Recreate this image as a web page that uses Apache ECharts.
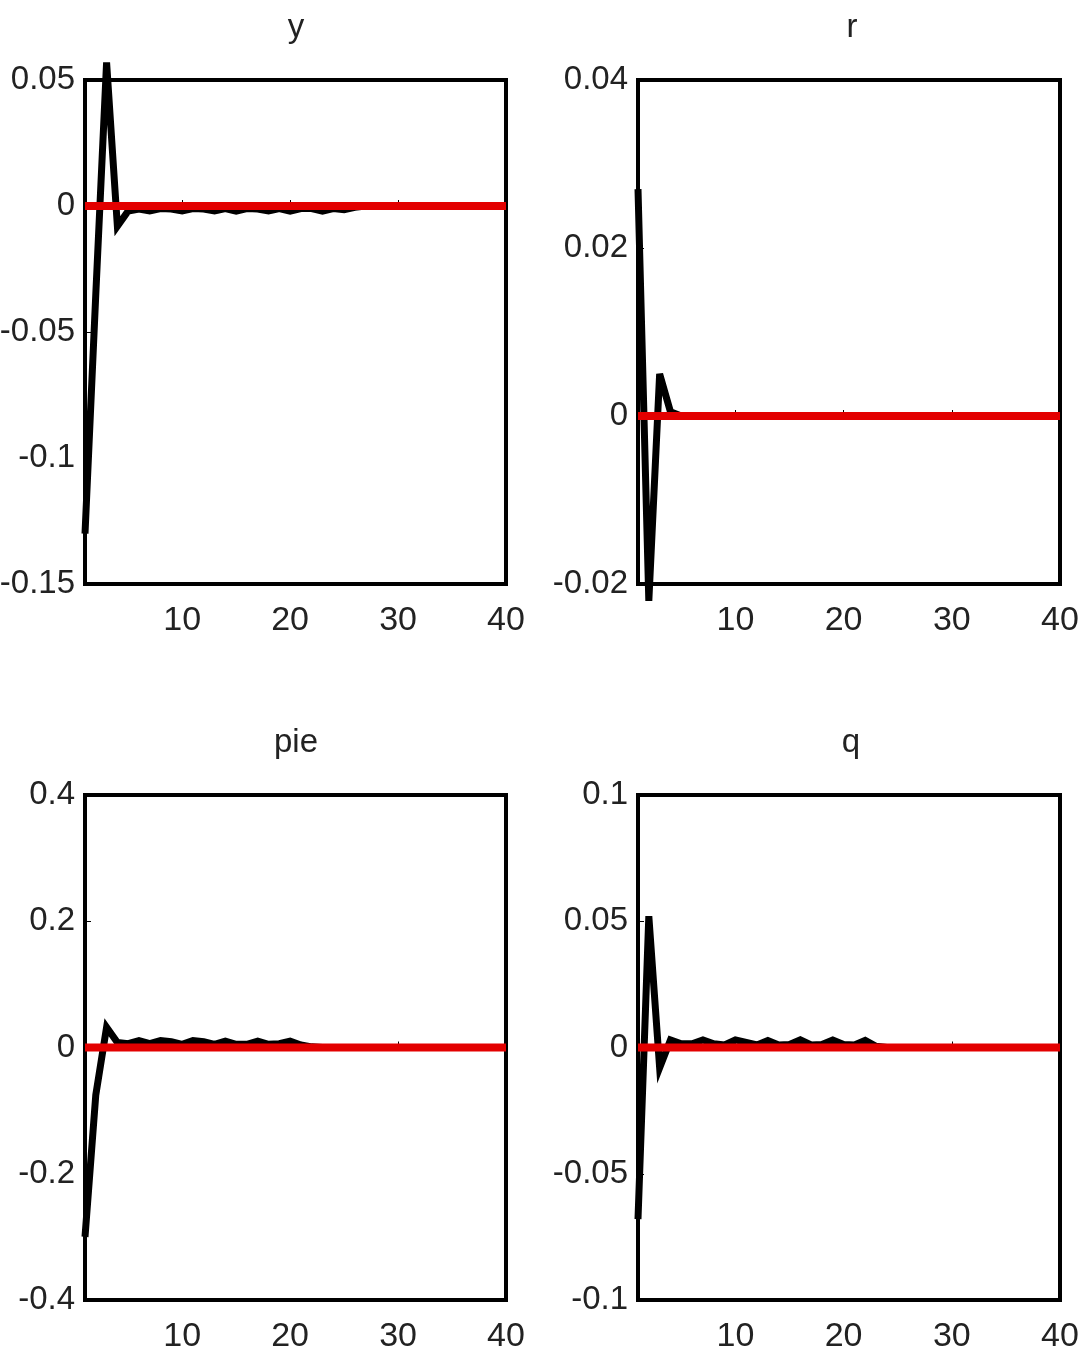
<!DOCTYPE html>
<html><head><meta charset="utf-8">
<script src="https://cdn.jsdelivr.net/npm/echarts@6/dist/echarts.min.js"></script>
<style>html,body{margin:0;padding:0;background:#fff}#c{width:1087px;height:1357px}</style>
</head><body><div id="c"></div>
<script>
const periods = [1,2,3,4,5,6,7,8,9,10,11,12,13,14,15,16,17,18,19,20,21,22,23,24,25,26,27,28,29,30,31,32,33,34,35,36,37,38,39,40];
const titles = ['y', 'r', 'pie', 'q'];
const irfY = [-0.13,-0.035,0.057,-0.008,-0.002,-0.0012,-0.002,-0.001,-0.0012,-0.002,-0.001,-0.0012,-0.002,-0.001,-0.002,-0.001,-0.0012,-0.002,-0.001,-0.002,-0.001,-0.001,-0.002,-0.001,-0.0015,-0.0005,0,0,0,0,0,0,0,0,0,0,0,0,0,0];
const irfR = [0.027,-0.022,0.005,0.0005,0,0,0,0,0,0,0,0,0,0,0,0,0,0,0,0,0,0,0,0,0,0,0,0,0,0,0,0,0,0,0,0,0,0,0,0];
const irfPie = [-0.30,-0.075,0.032,0.008,0.006,0.011,0.006,0.011,0.009,0.005,0.011,0.009,0.005,0.01,0.005,0.005,0.01,0.005,0.006,0.01,0.004,0.001,0,0,0,0,0,0,0,0,0,0,0,0,0,0,0,0,0,0];
const irfQ = [-0.068,0.052,-0.008,0.003,0.0015,0.0015,0.003,0.0015,0.001,0.003,0.002,0.001,0.0028,0.001,0.0012,0.003,0.001,0.0012,0.003,0.0012,0.001,0.0028,0.0005,0,0,0,0,0,0,0,0,0,0,0,0,0,0,0,0,0];
const zeroLine = [0,0,0,0,0,0,0,0,0,0,0,0,0,0,0,0,0,0,0,0,0,0,0,0,0,0,0,0,0,0,0,0,0,0,0,0,0,0,0,0];
const xTicks = [10, 20, 30, 40];
const yMins = [-0.15, -0.02, -0.4, -0.1];
const yMaxs = [0.05, 0.04, 0.4, 0.1];
const ySteps = [0.05, 0.02, 0.2, 0.05];

const allIrf = [irfY, irfR, irfPie, irfQ];
const FONT = '"Liberation Sans Narrow", "Arial Narrow", "Liberation Sans", sans-serif';
const gridPos = [
  {left: 85, top: 80, width: 421, height: 504},
  {left: 638, top: 80, width: 422, height: 504},
  {left: 85, top: 795, width: 421, height: 505},
  {left: 638, top: 795, width: 422, height: 505}
];
const titlePos = [
  {left: 291, top: 6},
  {left: 847, top: 6},
  {left: 291, top: 721},
  {left: 846, top: 721}
];
const pair = arr => periods.map((p, i) => [p, arr[i]]);
const fmt = v => String(parseFloat(v.toFixed(4)));

const option = {
  animation: false,
  backgroundColor: '#fff',
  title: titles.map((t, i) => ({
    text: t, left: titlePos[i].left, top: titlePos[i].top, textAlign: 'center',
    textStyle: {fontFamily: FONT, fontSize: 33, fontWeight: 'normal', color: '#222'}
  })),
  grid: gridPos.map(g => Object.assign({show: true, borderColor: '#000', borderWidth: 4, backgroundColor: '#fff', containLabel: false, outerBoundsMode: 'none'}, g)),
  xAxis: titles.map((t, i) => ({
    type: 'value', gridIndex: i, min: 1, max: 40,
    axisLine: {show: true, lineStyle: {color: '#000', width: 4}},
    axisTick: {show: true, inside: true, length: 6, customValues: xTicks, lineStyle: {color: '#000', width: 1}},
    axisLabel: {customValues: xTicks, fontFamily: FONT, fontSize: 34, color: '#222', margin: 20},
    splitLine: {show: false}
  })),
  yAxis: titles.map((t, i) => ({
    type: 'value', gridIndex: i, min: yMins[i], max: yMaxs[i], interval: ySteps[i],
    axisLine: {show: true, lineStyle: {color: '#000', width: 4}},
    axisTick: {show: true, inside: true, length: 6, lineStyle: {color: '#000', width: 1}},
    axisLabel: {formatter: fmt, fontFamily: FONT, fontSize: 33, color: '#222', margin: 10},
    splitLine: {show: false}
  })),
  series: []
};
titles.forEach((t, i) => {
  option.series.push({
    type: 'line', xAxisIndex: i, yAxisIndex: i, data: pair(allIrf[i]),
    showSymbol: false, symbol: 'none', clip: false, z: 2,
    lineStyle: {color: '#000', width: 7, join: 'miter', miterLimit: 6}
  });
  option.series.push({
    type: 'line', xAxisIndex: i, yAxisIndex: i, data: pair(zeroLine),
    showSymbol: false, symbol: 'none', z: 3,
    lineStyle: {color: '#e30000', width: 8}
  });
});
const chart = echarts.init(document.getElementById('c'), null, {renderer: 'canvas'});
chart.setOption(option);
</script>
</body></html>
